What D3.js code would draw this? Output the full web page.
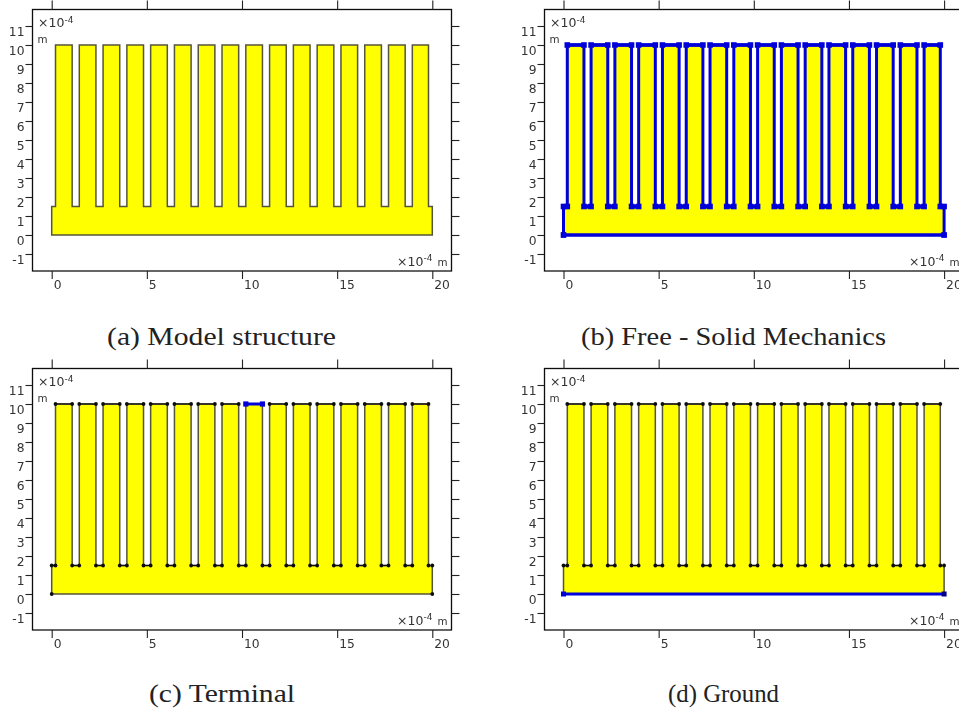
<!DOCTYPE html>
<html>
<head>
<meta charset="utf-8">
<script src="https://cdn.jsdelivr.net/npm/d3@7"></script>
<style>
  html, body { margin: 0; padding: 0; background: #fff; }
  svg { display: block; }
  text { font-family: "DejaVu Sans", sans-serif; fill: #333; }
  .caption { font-family: "Liberation Serif", serif; fill: #222; font-size: 26px; }
</style>
</head>
<body>
<svg id="chart" width="959" height="713"></svg>
<script>
// all lengths in units of 1e-4 m
const xTicks = [0, 5, 10, 15, 20]
const yTicks = [-1, 0, 1, 2, 3, 4, 5, 6, 7, 8, 9, 10, 11]
const finLeft = [0.2, 1.45, 2.7, 3.95, 5.2, 6.45, 7.7, 8.95, 10.2, 11.45, 12.7, 13.95, 15.2, 16.45, 17.7, 18.95]
const finRight = [1.075, 2.325, 3.575, 4.825, 6.075, 7.325, 8.575, 9.825, 11.075, 12.325, 13.575, 14.825, 16.075, 17.325, 18.575, 19.8]
const baseWidth = 20
const baseHeight = 1.5
const finTop = 10

const captions = ["(a) Model structure", "(b) Free - Solid Mechanics", "(c) Terminal", "(d) Ground"]
const terminalFin = 8

const panels = [
    { mode: "plain", x0: 51.7, y0: 235, box: [32.5, 9.5, 451.5, 271], cap: [107, 345, 229] },
    { mode: "free", x0: 563.5, y0: 235, box: [544.5, 9.5, 963.5, 271], cap: [581, 345, 305] },
    { mode: "terminal", x0: 51.7, y0: 594, box: [32.5, 368.5, 451.5, 630], cap: [149, 702, 146] },
    { mode: "ground", x0: 563.5, y0: 594, box: [544.5, 368.5, 963.5, 630], cap: [668, 702, 111] }
]

const svg = d3.select("#chart")

// slight softening, the reference is a resampled screenshot
svg.append("defs").append("filter").attr("id", "soft")
    .append("feGaussianBlur").attr("stdDeviation", 0.4)

const blue = "#0000d8"
const edgeGrey = "#55553a"

const drawPanel = (p, caption) => {
    const g = svg.append("g").attr("filter", "url(#soft)")
    const [bx0, by0, bx1, by1] = p.box
    const x = d3.scaleLinear().domain([0, 20]).range([p.x0, p.x0 + 380.6])
    const y = d3.scaleLinear().domain([0, 10]).range([p.y0, p.y0 - 190])

    // outline of the comb, left to right along the top
    const outline = [[0, 0], [0, baseHeight]]
    finLeft.forEach((l, i) => {
        outline.push([l, baseHeight], [l, finTop], [finRight[i], finTop], [finRight[i], baseHeight])
    })
    outline.push([baseWidth, baseHeight], [baseWidth, 0])
    const line = d3.line().x(d => x(d[0])).y(d => y(d[1]))

    const freeMode = p.mode === "free"
    g.append("path")
        .attr("d", line(outline) + "Z")
        .attr("fill", "#ffff00")
        .attr("stroke", freeMode ? blue : edgeGrey)
        .attr("stroke-width", freeMode ? 3 : 1.5)

    // box and axes
    g.append("rect")
        .attr("x", bx0).attr("y", by0)
        .attr("width", bx1 - bx0).attr("height", by1 - by0)
        .attr("fill", "none").attr("stroke", "#111").attr("stroke-width", 1.3)

    const styleAxis = sel => {
        sel.select(".domain").remove()
        sel.selectAll("line").attr("stroke", "#222").attr("stroke-width", 1.1)
        sel.selectAll("text").attr("fill", "#333").style("font-size", "12.3px")
    }
    const fmt = d3.format("d")

    g.append("g").attr("transform", `translate(${bx0},0)`)
        .call(d3.axisLeft(y).tickValues(yTicks).tickFormat(d => String(fmt(d)).replace("\u2212", "-")).tickSize(7).tickPadding(1))
        .call(styleAxis)
        .selectAll("text").attr("dy", "0.8em")
    g.append("g").attr("transform", `translate(${bx1},0)`)
        .call(d3.axisRight(y).tickValues(yTicks).tickFormat("").tickSize(8))
        .call(styleAxis)
    g.append("g").attr("transform", `translate(0,${by1})`)
        .call(d3.axisBottom(x).tickValues(xTicks).tickFormat(fmt).tickSize(8).tickPadding(1))
        .call(styleAxis)
        .selectAll("text").attr("text-anchor", "start").attr("dx", "1.5").attr("dy", "0.7em")
    g.append("g").attr("transform", `translate(0,${by0})`)
        .call(d3.axisTop(x).tickValues(xTicks).tickFormat("").tickSize(9))
        .call(styleAxis)

    // vertices of the comb
    const vertices = outline
    if (freeMode) {
        // horizontal runs read heavier than the fin sides
        g.selectAll("line.t").data(finLeft).join("line").attr("class", "t")
            .attr("x1", d => x(d)).attr("x2", (d, i) => x(finRight[i]))
            .attr("y1", y(finTop)).attr("y2", y(finTop))
            .attr("stroke", blue).attr("stroke-width", 3.6)
        g.selectAll("line.s").data(finLeft).join("line").attr("class", "s")
            .attr("x1", (d, i) => x(i === 0 ? 0 : finRight[i - 1]))
            .attr("x2", d => x(d))
            .attr("y1", y(baseHeight)).attr("y2", y(baseHeight))
            .attr("stroke", blue).attr("stroke-width", 4.4)
        g.selectAll("rect.v").data(vertices).join("rect").attr("class", "v")
            .attr("x", d => x(d[0]) - 2.8).attr("y", d => y(d[1]) - 2.8)
            .attr("width", 5.6).attr("height", 5.6).attr("fill", blue)
    }
    if (p.mode === "terminal" || p.mode === "ground") {
        // top edges read darker when points are displayed
        g.selectAll("line.t").data(finLeft).join("line").attr("class", "t")
            .attr("x1", d => x(d)).attr("x2", (d, i) => x(finRight[i]))
            .attr("y1", y(finTop)).attr("y2", y(finTop))
            .attr("stroke", "#111").attr("stroke-width", 1.3)
        g.selectAll("line.s").data(finLeft).join("line").attr("class", "s")
            .attr("x1", (d, i) => x(i === 0 ? 0 : finRight[i - 1]))
            .attr("x2", d => x(d))
            .attr("y1", y(baseHeight)).attr("y2", y(baseHeight))
            .attr("stroke", "#111").attr("stroke-width", 1.3)
        g.selectAll("circle.v").data(vertices).join("circle").attr("class", "v")
            .attr("cx", d => x(d[0])).attr("cy", d => y(d[1]))
            .attr("r", 1.9).attr("fill", "#111")
    }
    if (p.mode === "terminal") {
        const a = finLeft[terminalFin], b = finRight[terminalFin]
        g.append("line")
            .attr("x1", x(a)).attr("x2", x(b)).attr("y1", y(finTop)).attr("y2", y(finTop))
            .attr("stroke", blue).attr("stroke-width", 3)
        g.selectAll("rect.s").data([a, b]).join("rect").attr("class", "s")
            .attr("x", d => x(d) - 2.6).attr("y", y(finTop) - 2.6)
            .attr("width", 5.2).attr("height", 5.2).attr("fill", blue)
    }
    if (p.mode === "ground" || freeMode) {
        g.append("line")
            .attr("x1", x(0)).attr("x2", x(baseWidth)).attr("y1", y(0)).attr("y2", y(0))
            .attr("stroke", blue).attr("stroke-width", 3)
        g.selectAll("rect.g").data([0, baseWidth]).join("rect").attr("class", "g")
            .attr("x", d => x(d) - 2.5).attr("y", y(0) - 2.5)
            .attr("width", 5).attr("height", 5)
            .attr("fill", d => d === 0 || freeMode ? blue : "#00008a")
    }

    // unit labels inside the box
    const unit = g.append("text").attr("x", bx0 + 5.5).attr("y", by0 + 17.5).style("font-size", "12.5px")
    unit.append("tspan").text("\u00d710")
    unit.append("tspan").attr("dy", -4.5).style("font-size", "9px").text("-4")
    g.append("text").attr("x", bx0 + 5).attr("y", by0 + 33).style("font-size", "10.3px").text("m")

    const unit2 = g.append("text").attr("x", bx1 - 54.5).attr("y", by1 - 5.5).style("font-size", "12.5px")
    unit2.append("tspan").text("\u00d710")
    unit2.append("tspan").attr("dy", -4.5).style("font-size", "9px").text("-4")
    unit2.append("tspan").attr("dy", 4.5).attr("dx", 5).style("font-size", "10.3px").text("m")

    // caption
    svg.append("text").attr("class", "caption")
        .attr("x", p.cap[0]).attr("y", p.cap[1])
        .attr("textLength", p.cap[2]).attr("lengthAdjust", "spacingAndGlyphs")
        .text(caption)
}

panels.forEach((p, i) => drawPanel(p, captions[i]))
</script>
</body>
</html>
